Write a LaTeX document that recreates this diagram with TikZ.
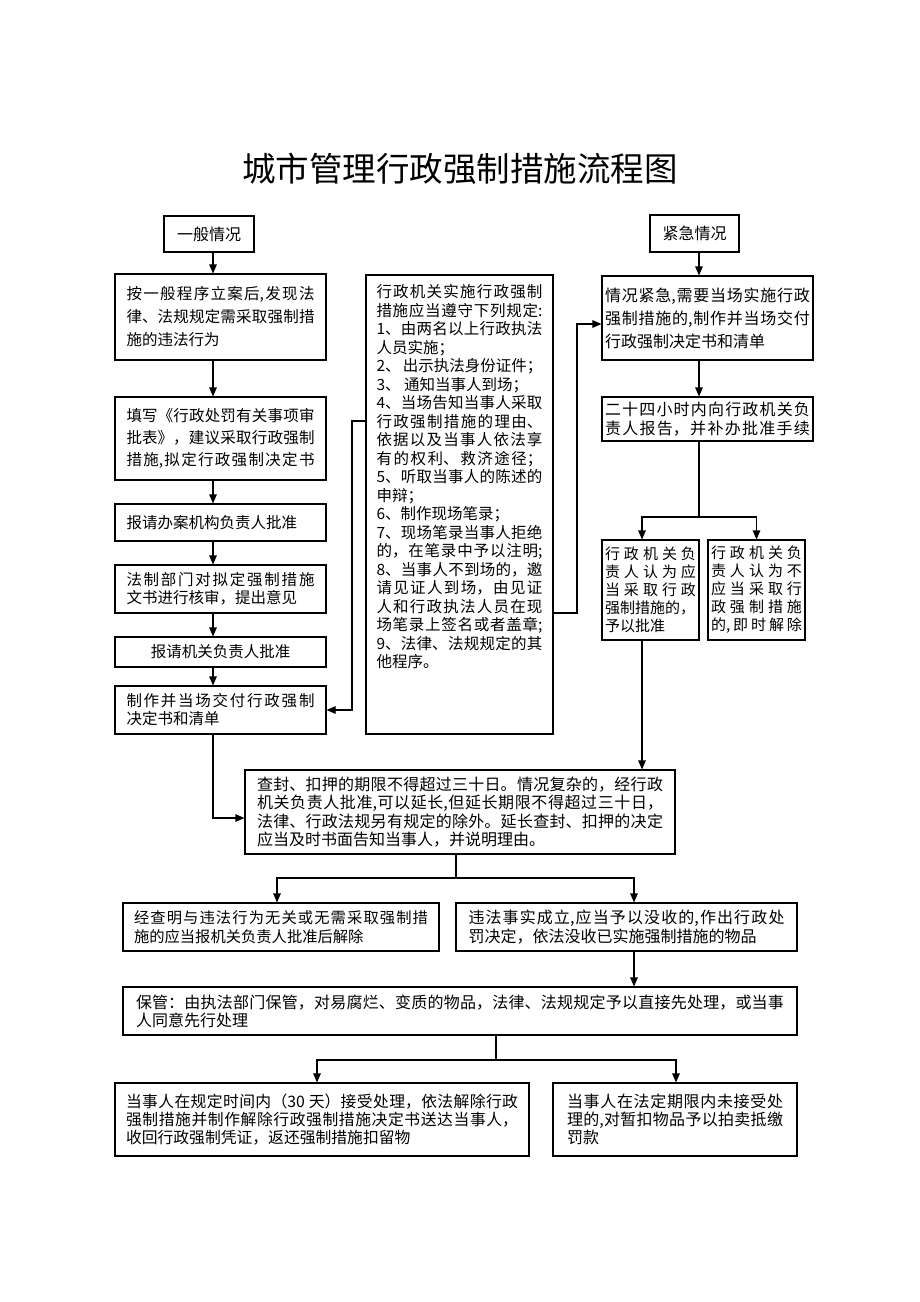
\documentclass[tikz,border=0pt]{standalone}
\usepackage{fontspec}
\setmainfont{Noto Sans CJK SC}
\usetikzlibrary{arrows.meta}
\XeTeXlinebreaklocale "zh"
\XeTeXlinebreakskip=0pt plus 3pt
\tolerance=10000 \hbadness=10000 \hfuzz=3pt
\setlength{\parindent}{0pt}
\newcommand\setfs[2]{\fontsize{#1}{#2}\selectfont}
\newcommand\jb{\unskip\break}
\begin{document}
\begin{tikzpicture}[x=1pt,y=-1pt,
  box/.style={draw=black, line width=1.1pt, inner sep=0pt},
  arr/.style={-{Triangle[length=9pt,width=7.5pt]}, line width=1.1pt},
  ln/.style={line width=1.1pt}]
\useasboundingbox (0,0) rectangle (920,1302);
\fill[white] (0,0) rectangle (920,1302);

% helper coordinates
\coordinate (colL) at (213,0);
\coordinate (colR) at (699,0);
\coordinate (colR3) at (642,0);
\coordinate (cD1) at (277,0);
\coordinate (cD2) at (634,0);
\coordinate (cF1) at (317,0);
\coordinate (cF2) at (676,0);
\coordinate (mL) at (352,421);
\coordinate (mR) at (577,613);
\coordinate (sR) at (699,517);
\coordinate (sC) at (456,878);
\coordinate (sB) at (496,1060);

% title
\node (T) at (460,169) {\setfs{33.5}{40}城市管理行政强制措施流程图};

% left column
\node[box, minimum width=90pt, minimum height=36pt] (g0) at (209,234) {\setfs{16}{18}一般情况};
\node[box, minimum width=211pt, minimum height=86pt] (L1) at (220.5,317) {\setfs{15.5}{23}\parbox{188pt}{%
按一般程序立案后,发现法\jb
律、法规规定需采取强制措\jb
施的违法行为}};
\node[box, minimum width=211pt, minimum height=83pt] (L2) at (220.5,438.5) {\setfs{15.5}{22}\parbox{188pt}{\parfillskip=0pt
填写《行政处罚有关事项审\jb
批表》，建议采取行政强制\jb
措施,拟定行政强制决定书}};
\node[box, minimum width=211pt, minimum height=37pt] (L3) at (220.5,522.5) {\setfs{15.5}{18}\parbox{188pt}{报请办案机构负责人批准}};
\node[box, minimum width=211pt, minimum height=48pt] (L4) at (220.5,589) {\setfs{15.5}{18}\parbox{188pt}{%
法制部门对拟定强制措施\jb
文书进行核审，提出意见}};
\node[box, minimum width=211pt, minimum height=30pt] (L5) at (220.5,652) {\setfs{15.5}{18}报请机关负责人批准};
\node[box, minimum width=211pt, minimum height=48pt] (L6) at (220.5,710) {\setfs{15.5}{18}\parbox{188pt}{%
制作并当场交付行政强制\jb
决定书和清单}};

% middle box
\node[box, minimum width=187pt, minimum height=459pt] (M) at (459.5,504.5) {\setfs{15.5}{18.5}\parbox[c][440pt][t]{166pt}{%
行政机关实施行政强制\jb
措施应当遵守下列规定:\jb
1、由两名以上行政执法\jb
人员实施；\\
2、 出示执法身份证件；\\
3、 通知当事人到场；\\
4、当场告知当事人采取\jb
行政强制措施的理由、\jb
依据以及当事人依法享\jb
有的权利、救济途径；\jb
5、听取当事人的陈述的\jb
申辩；\\
6、制作现场笔录；\\
7、现场笔录当事人拒绝\jb
的，在笔录中予以注明;\jb
8、当事人不到场的，邀\jb
请见证人到场，由见证\jb
人和行政执法人员在现\jb
场笔录上签名或者盖章;\jb
9、法律、法规规定的其\jb
他程序。}};

% right column
\node[box, minimum width=89pt, minimum height=37pt] (e0) at (694.5,233.5) {\setfs{16}{18}紧急情况};
\node[box, minimum width=211pt, minimum height=84pt] (R1) at (707.5,318) {\setfs{16}{23}\parbox{205pt}{%
情况紧急,需要当场实施行政\jb
强制措施的,制作并当场交付\jb
行政强制决定书和清单}};
\node[box, minimum width=211pt, minimum height=44pt] (R2) at (707.5,419) {\setfs{16}{19}\parbox{205pt}{\parfillskip=0pt
二十四小时内向行政机关负\jb
责人报告，并补办批准手续}};
\node[box, minimum width=97pt, minimum height=100pt] (R3) at (650.5,590) {\setfs{15}{18}\parbox{91pt}{%
行政机关负\jb
责人认为应\jb
当采取行政\jb
强制措施的，\\
予以批准}};
\node[box, minimum width=97pt, minimum height=100pt] (R4) at (756.5,590) {\setfs{15}{18}\parbox{91pt}{\parfillskip=0pt
行政机关负\jb
责人认为不\jb
应当采取行\jb
政强制措施\jb
的,即时解除}};

% lower part
\node[box, minimum width=430pt, minimum height=84pt] (C) at (460,812) {\setfs{16}{18.3}\parbox{406pt}{%
查封、扣押的期限不得超过三十日。情况复杂的，经行政\jb
机关负责人批准,可以延长,但延长期限不得超过三十日，\jb
法律、行政法规另有规定的除外。延长查封、扣押的决定\jb
应当及时书面告知当事人，并说明理由。}};
\node[box, minimum width=316pt, minimum height=48pt] (D1) at (281,927) {\setfs{15.3}{18.5}\parbox{294pt}{%
经查明与违法行为无关或无需采取强制措\jb
施的应当报机关负责人批准后解除}};
\node[box, minimum width=341pt, minimum height=48pt] (D2) at (626.5,927) {\setfs{16}{18.5}\parbox{316pt}{%
违法事实成立,应当予以没收的,作出行政处\jb
罚决定，依法没收已实施强制措施的物品}};
\node[box, minimum width=674pt, minimum height=48pt] (B) at (460,1011) {\setfs{16}{18}\parbox{648pt}{%
保管：由执法部门保管，对易腐烂、变质的物品，法律、法规规定予以直接先处理，或当事\jb
人同意先行处理}};
\node[box, minimum width=414pt, minimum height=73pt] (F1) at (322,1119.5) {\setfs{15.8}{18.3}\parbox{392pt}{%
当事人在规定时间内（30 天）接受处理，依法解除行政\jb
强制措施并制作解除行政强制措施决定书送达当事人，\jb
收回行政强制凭证，返还强制措施扣留物}};
\node[box, minimum width=244pt, minimum height=73pt] (F2) at (675,1119.5) {\setfs{16}{18.3}\parbox{216pt}{%
当事人在法定期限内未接受处\jb
理的,对暂扣物品予以拍卖抵缴\jb
罚款}};

% connectors left column
\draw[arr] (g0.south -| colL) -- (L1.north -| colL);
\draw[arr] (L1.south -| colL) -- (L2.north -| colL);
\draw[arr] (L2.south -| colL) -- (L3.north -| colL);
\draw[arr] (L3.south -| colL) -- (L4.north -| colL);
\draw[arr] (L4.south -| colL) -- (L5.north -| colL);
\draw[arr] (L5.south -| colL) -- (L6.north -| colL);
\draw[arr] (L6.south -| colL) |- ([yshift=-6pt]C.west);

% middle connectors
\draw[arr] (M.west |- mL) -- (mL) |- (L6.east);
\draw[arr] (M.east |- mR) -- (mR) |- ([yshift=-6pt]R1.west);

% right column
\draw[arr] (e0.south -| colR) -- (R1.north -| colR);
\draw[arr] (R1.south -| colR) -- (R2.north -| colR);
\draw[ln] (R2.south -| colR) -- (sR);
\draw[arr] (sR) -| (R3.north -| colR3);
\draw[arr] (sR) -| (R4.north);
\draw[arr] (R3.south -| colR3) -- (C.north -| colR3);

% lower
\draw[ln] (C.south -| sC) -- (sC);
\draw[arr] (sC) -| (D1.north -| cD1);
\draw[arr] (sC) -| (D2.north -| cD2);
\draw[arr] (D2.south -| cD2) -- (B.north -| cD2);
\draw[ln] (B.south -| sB) -- (sB);
\draw[arr] (sB) -| (F1.north -| cF1);
\draw[arr] (sB) -| (F2.north -| cF2);
\end{tikzpicture}
\end{document}
